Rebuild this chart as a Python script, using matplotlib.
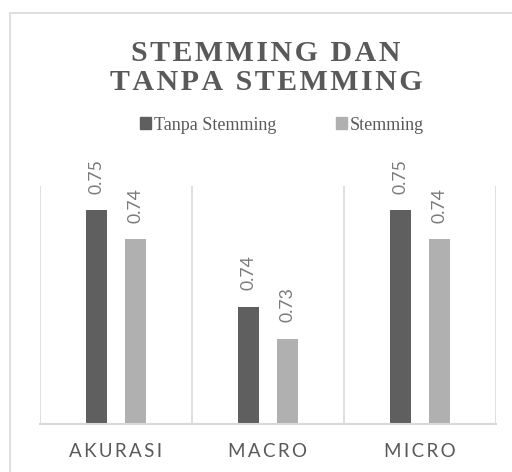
import matplotlib.pyplot as plt
import numpy as np
from matplotlib.patches import Patch, Rectangle

categories = ['AKURASI', 'MACRO', 'MICRO']
tanpa = [0.7481, 0.7354, 0.7481]
stemming = [0.7443, 0.7312, 0.7443]
series_names = ['Tanpa Stemming', 'Stemming']

dark = '#5f5f5f'
light = '#b0b0b0'
grid = '#d9d9d9'
txt = '#595959'


def spaced(s, sep):
    return sep.join(list(s))


fig = plt.figure(figsize=(5.12, 4.72), dpi=100)
W, H = 512, 472

# outer chart border (cut at right/bottom as in the screenshot)
fig.patches.append(Rectangle((10 / W, -0.1), 1.2, 1 - 13 / H + 0.1, transform=fig.transFigure,
                             fill=False, edgecolor=grid, lw=1.2))

ax = fig.add_axes([40 / W, (H - 424) / H, (496 - 40) / W, (424 - 186) / H])
x = np.arange(len(categories))
w = 0.138
off = 0.13
b1 = ax.bar(x - off, tanpa, w, color=dark, bottom=0)
b2 = ax.bar(x + off, stemming, w, color=light, bottom=0)
ax.set_ylim(0.72, 0.7513)
ax.set_xlim(-0.5, len(categories) - 0.5)

for bars, vals in [(b1, tanpa), (b2, stemming)]:
    for r, v in zip(bars, vals):
        ax.annotate('%.2f' % v, (r.get_x() + r.get_width() / 2, v), xytext=(0, 12),
                    textcoords='offset points', rotation=90, ha='center', va='bottom',
                    fontsize=12.7, color='#7a7a7a',
                    family=['Lato', 'DejaVu Sans'], annotation_clip=False)

for b in np.arange(-0.5, len(categories), 1.0):
    ax.axvline(b, color=grid, lw=1.2, zorder=0)
ax.axhline(0.72, color=grid, lw=1.5, zorder=3, clip_on=False)

for s in ax.spines.values():
    s.set_visible(False)
ax.set_yticks([])
ax.set_xticks(x)
ax.set_xticklabels([spaced(c, '\u2009') for c in categories], fontsize=13.5,
                   color=txt, family=['Lato', 'DejaVu Sans'])
ax.tick_params(axis='x', length=0, pad=14)

fig.text(266 / W, 1 - 68 / H, spaced('STEMMING DAN', '\u200a') + '\n' + spaced('TANPA STEMMING', '\u200a'),
         ha='center', va='center', fontsize=21.5, fontweight='bold', color=txt,
         family=['Liberation Serif', 'DejaVu Serif'], linespacing=1.08)

handles = [Patch(color=dark), Patch(color=light)]
fig.legend(handles, series_names, loc='center', bbox_to_anchor=(282 / W, 1 - 125 / H), ncol=2,
           frameon=False, handlelength=0.6, handleheight=0.6, handletextpad=0.15,
           columnspacing=3.3, prop={'family': 'Liberation Serif', 'size': 13},
           labelcolor=txt)

fig.savefig('out.png', dpi=100)
